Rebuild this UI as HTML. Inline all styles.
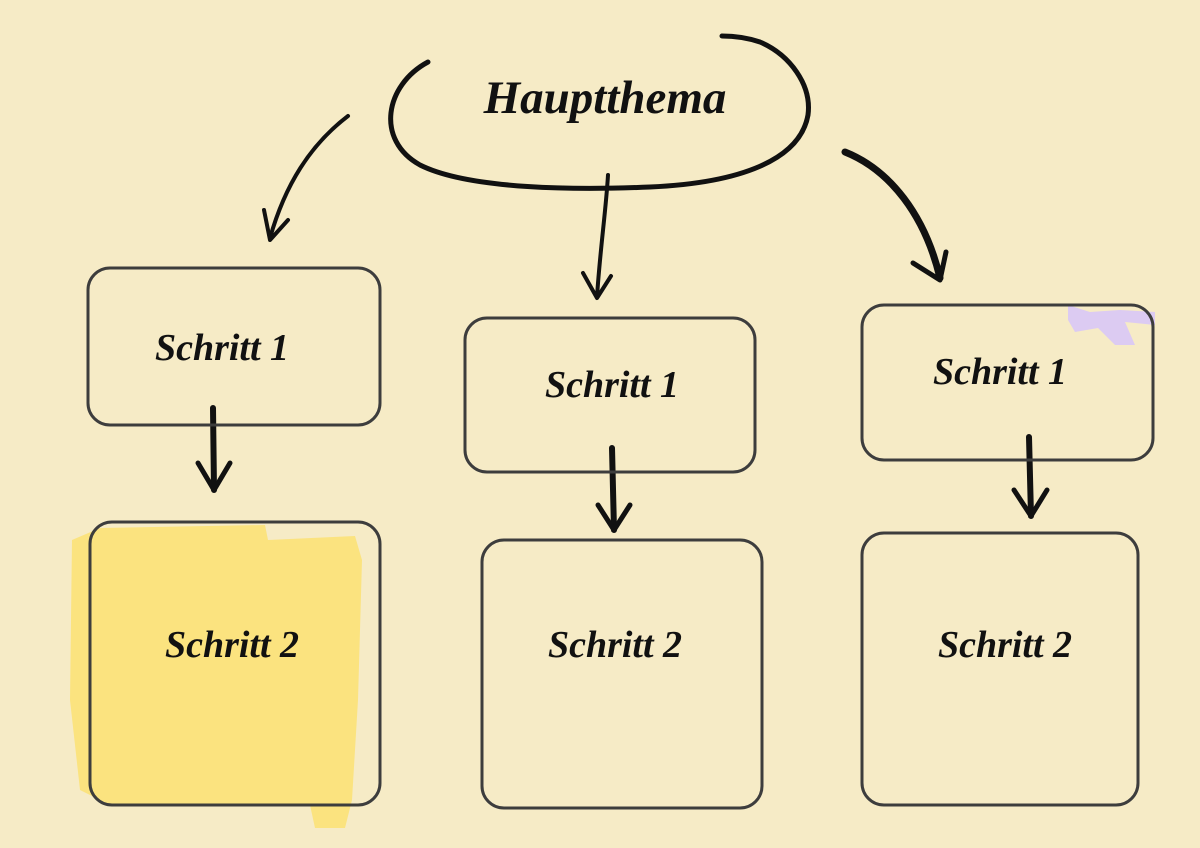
<!DOCTYPE html>
<html><head><meta charset="utf-8"><style>
html,body{margin:0;padding:0;background:#f6ebc6;}
svg{display:block}
text{font-family:"Liberation Serif",serif;font-style:italic;font-weight:bold;fill:#111;}
</style></head><body>
<svg width="1200" height="848" viewBox="0 0 1200 848" xmlns="http://www.w3.org/2000/svg">
<rect width="1200" height="848" fill="#f6ebc6"/>
<path d="M72 540 L100 528 L265 525 L268 540 L355 536 L362 560 L358 700 L352 800 L345 828 L315 828 L310 805 L110 805 L80 790 L70 700 Z" fill="#fbe37f"/>
<path d="M1068 305 L1090 312 L1120 310 L1155 312 L1155 325 L1125 322 L1135 345 L1115 345 L1098 328 L1075 332 L1068 320 Z" fill="#dccbf2"/>
<g fill="none" stroke="#111" stroke-linecap="round" stroke-linejoin="round">
<path d="M428 62 C385 85 375 140 420 165 C470 190 580 190 650 187 C740 183 800 160 808 115 C812 85 790 55 760 42 C745 37 730 36 722 36" stroke-width="5"/>
<path d="M348 116 C310 145 285 185 270 238" stroke-width="4"/>
<path d="M264 210 L270 240 L288 220" stroke-width="4"/>
<path d="M608 175 C606 210 600 250 597 297" stroke-width="4"/>
<path d="M583 273 L597 298 L611 276" stroke-width="4"/>
<path d="M845 152 C890 170 925 215 940 278" stroke-width="7"/>
<path d="M913 263 L940 280 L946 252" stroke-width="5"/>
<path d="M213 408 L214 490" stroke-width="6"/>
<path d="M198 463 L214 490 L230 463" stroke-width="5"/>
<path d="M612 448 L614 530" stroke-width="6"/>
<path d="M598 505 L614 530 L630 505" stroke-width="5"/>
<path d="M1029 437 L1031 516" stroke-width="6"/>
<path d="M1014 490 L1031 516 L1047 490" stroke-width="5"/>
</g>
<g fill="none" stroke="#3d3d3d" stroke-width="3" stroke-linejoin="round">
<rect x="88" y="268" width="292" height="157" rx="22"/>
<rect x="465" y="318" width="290" height="154" rx="22"/>
<rect x="862" y="305" width="291" height="155" rx="22"/>
<rect x="90" y="522" width="290" height="283" rx="22"/>
<rect x="482" y="540" width="280" height="268" rx="22"/>
<rect x="862" y="533" width="276" height="272" rx="22"/>
</g>
<text x="605" y="113" font-size="47" text-anchor="middle">Hauptthema</text>
<text x="222" y="360" font-size="38" text-anchor="middle">Schritt 1</text>
<text x="612" y="397" font-size="38" text-anchor="middle">Schritt 1</text>
<text x="1000" y="384" font-size="38" text-anchor="middle">Schritt 1</text>
<text x="232" y="657" font-size="38" text-anchor="middle">Schritt 2</text>
<text x="615" y="657" font-size="38" text-anchor="middle">Schritt 2</text>
<text x="1005" y="657" font-size="38" text-anchor="middle">Schritt 2</text>
</svg>
</body></html>
